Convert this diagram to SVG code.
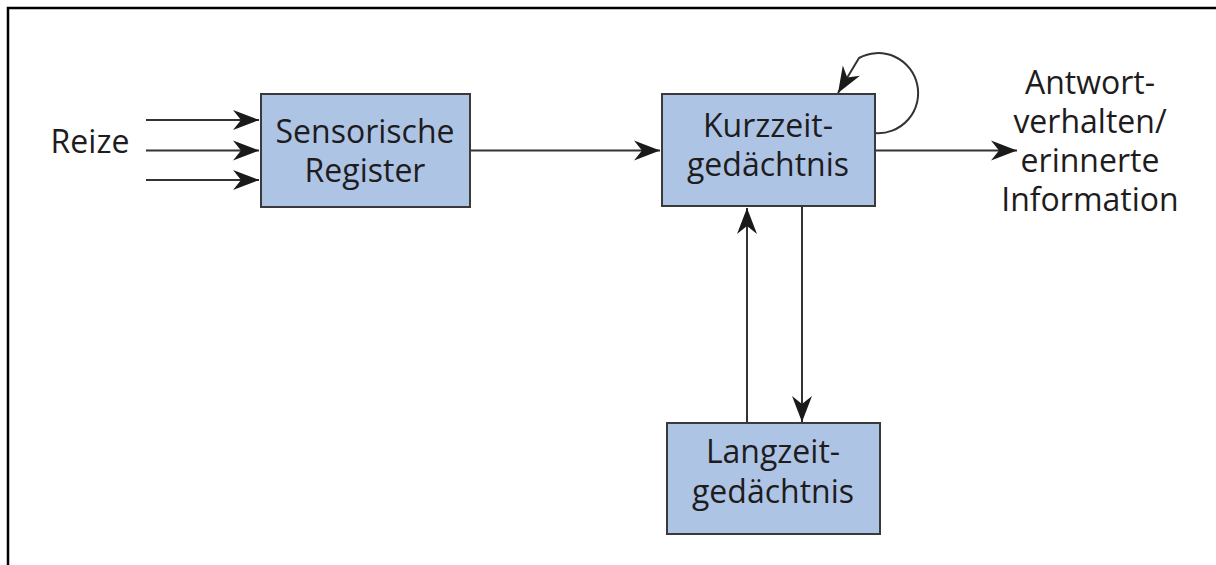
<svg xmlns="http://www.w3.org/2000/svg" width="1216" height="565" viewBox="0 0 1216 565">
  <style>
    .box { fill: #aec4e5; stroke: #3a3a3a; stroke-width: 2; }
    .lbl { font-family: "Open Sans", "Liberation Sans", sans-serif; font-size: 32px; fill: #1e1c1d; text-anchor: middle; }
    .conn { fill: none; stroke: #333333; stroke-width: 2; }
  </style>
  <defs>
    <marker id="ah" markerUnits="userSpaceOnUse" markerWidth="32" markerHeight="24" viewBox="-28 -12 30 24" refX="0" refY="0" orient="auto">
      <path d="M0,0 L-26,-10 L-18,0 L-26,10 Z" fill="#1a1a1a"/>
    </marker>
  </defs>
  <rect width="1216" height="565" fill="#ffffff"/>
  <path d="M8,565 L8,8 L1216,8" fill="none" stroke="#000" stroke-width="2.5"/>

  <g id="connectors">
    <line class="conn" x1="146" y1="120" x2="259" y2="120" marker-end="url(#ah)"/>
    <line class="conn" x1="146" y1="150.5" x2="259" y2="150.5" marker-end="url(#ah)"/>
    <line class="conn" x1="146" y1="180" x2="259" y2="180" marker-end="url(#ah)"/>
    <line class="conn" x1="470" y1="150.5" x2="660" y2="150.5" marker-end="url(#ah)"/>
    <line class="conn" x1="875" y1="150.5" x2="1017" y2="150.5" marker-end="url(#ah)"/>
    <path class="conn" d="M875,133 A40,40 0 1 0 859,58 L838,93" marker-end="url(#ah)"/>
    <line class="conn" x1="747" y1="423" x2="747" y2="208" marker-end="url(#ah)"/>
    <line class="conn" x1="802" y1="206" x2="802" y2="422" marker-end="url(#ah)"/>
  </g>

  <g id="reize">
    <text class="lbl" x="90" y="153">Reize</text>
  </g>

  <g id="sensorische-register">
    <rect class="box" x="261" y="94" width="209" height="113"/>
    <text class="lbl" x="365" y="143">Sensorische</text>
    <text class="lbl" x="365" y="182">Register</text>
  </g>

  <g id="kurzzeitgedaechtnis">
    <rect class="box" x="662" y="94" width="213" height="112"/>
    <text class="lbl" x="768" y="137">Kurzzeit-</text>
    <text class="lbl" x="768" y="176">gedächtnis</text>
  </g>

  <g id="langzeitgedaechtnis">
    <rect class="box" x="667" y="423" width="213" height="111"/>
    <text class="lbl" x="773" y="463">Langzeit-</text>
    <text class="lbl" x="773" y="503">gedächtnis</text>
  </g>

  <g id="antwortverhalten">
    <text class="lbl" x="1090" y="94">Antwort-</text>
    <text class="lbl" x="1090" y="133">verhalten/</text>
    <text class="lbl" x="1090" y="172">erinnerte</text>
    <text class="lbl" x="1090" y="211">Information</text>
  </g>
</svg>
